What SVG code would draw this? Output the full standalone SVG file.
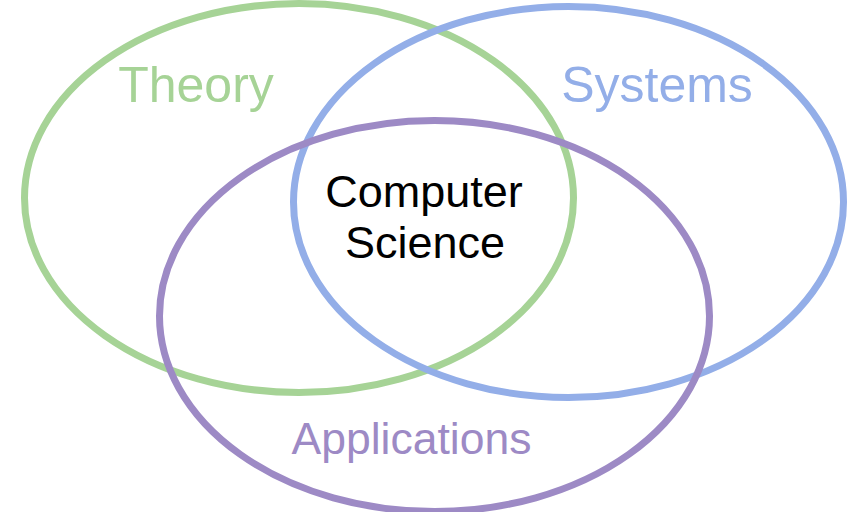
<svg xmlns="http://www.w3.org/2000/svg" width="859" height="512" viewBox="0 0 859 512">
<style>
.ring{fill:none;stroke-width:7}
.lbl{font-family:"Liberation Sans",Arial,sans-serif;text-anchor:middle}
</style>
<rect width="859" height="512" fill="#ffffff"/>
<g id="theory">
<ellipse class="ring" cx="299" cy="198" rx="274.5" ry="194.5" stroke="#a6d396"/>
<text class="lbl" x="196" y="102" font-size="50" fill="#a6d396">Theory</text>
</g>
<g id="systems">
<ellipse class="ring" cx="568.5" cy="202" rx="275" ry="195.5" stroke="#93aee8"/>
<text class="lbl" x="657" y="102" font-size="50" fill="#93aee8">Systems</text>
</g>
<g id="applications">
<ellipse class="ring" cx="434.5" cy="316" rx="275" ry="195.5" stroke="#9d8ac5"/>
<text class="lbl" x="411.5" y="454" font-size="44.5" fill="#9d8ac5">Applications</text>
</g>
<g id="cs">
<text class="lbl" x="424" y="207" font-size="45" fill="#000000">Computer</text>
<text class="lbl" x="425" y="258" font-size="45" fill="#000000">Science</text>
</g>
<g id="connectors"></g>
</svg>
